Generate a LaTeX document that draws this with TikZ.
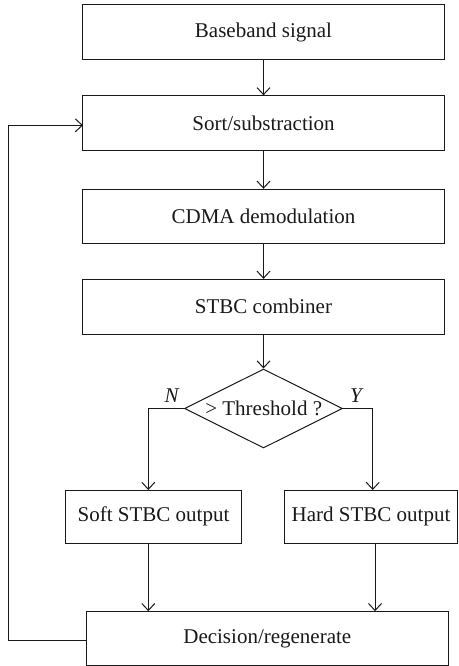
\documentclass[tikz,border=0pt]{standalone}
\usepackage{fontspec}
\setmainfont{Liberation Serif}
\usetikzlibrary{shapes.geometric,arrows.meta}
\begin{document}
\begin{tikzpicture}[x=1pt,y=-1pt,
  every node/.style={font=\fontsize{21}{24}\selectfont, text=black!90},
  box/.style={draw=black!90, line width=1pt, rectangle, inner sep=0pt},
  arr/.style={draw=black!90, line width=1pt, -{Straight Barb[length=7pt,width=13pt,line width=1pt]}},
  ln/.style={draw=black!90, line width=1pt}]
\useasboundingbox (0,0) rectangle (458,666);
\node[box, minimum width=361.5pt, minimum height=55pt] (base) at (263.5,32.5) {Baseband signal};
\node[box, minimum width=361.5pt, minimum height=54.3pt] (sort) at (263.5,123) {Sort/substraction};
\node[box, minimum width=361.5pt, minimum height=54pt] (cdma) at (263.5,216.3) {CDMA demodulation};
\node[box, minimum width=361.5pt, minimum height=54.7pt] (stbc) at (263.5,306.7) {STBC combiner};
\node[diamond, draw=black!90, line width=1pt, minimum width=158pt, minimum height=79pt, inner sep=0pt] (dia) at (263.5,408.5) {};
\node (thr) at (263.7,408.7) {> Threshold ?};
\node[box, minimum width=175.6pt, minimum height=53.3pt] (soft) at (153.5,516.7) {Soft STBC output};
\node[box, minimum width=172.6pt, minimum height=53.3pt] (hard) at (371,516.7) {Hard STBC output};
\node[box, minimum width=362pt, minimum height=53.8pt] (dec) at (267.3,638.6) {Decision/regenerate};
\node[font=\fontsize{21}{24}\selectfont\itshape] (nlab) at (171.7,396) {N};
\node[font=\fontsize{21}{24}\selectfont\itshape] (ylab) at (356,396) {Y};
\coordinate (nx) at (148.3,490);
\coordinate (yx) at (372.7,490);
\coordinate (hx) at (375,543.3);
\coordinate (fb) at (86.3,640.7);
\coordinate (fl) at (8.3,640.7);
\coordinate (fs) at (83,125.3);
\draw[arr] (base.south) -- (sort.north);
\draw[arr] (sort.south) -- (cdma.north);
\draw[arr] (cdma.south) -- (stbc.north);
\draw[arr] (stbc.south) -- (dia.north);
\draw[arr] (dia.west) -| (nx);
\draw[arr] (dia.east) -| (yx);
\draw[arr] (soft.south -| nx) -- (dec.north -| nx);
\draw[arr] (hx) -- (dec.north -| hx);
\draw[arr] (fb) -- (fl) |- (fs);
\end{tikzpicture}
\end{document}
